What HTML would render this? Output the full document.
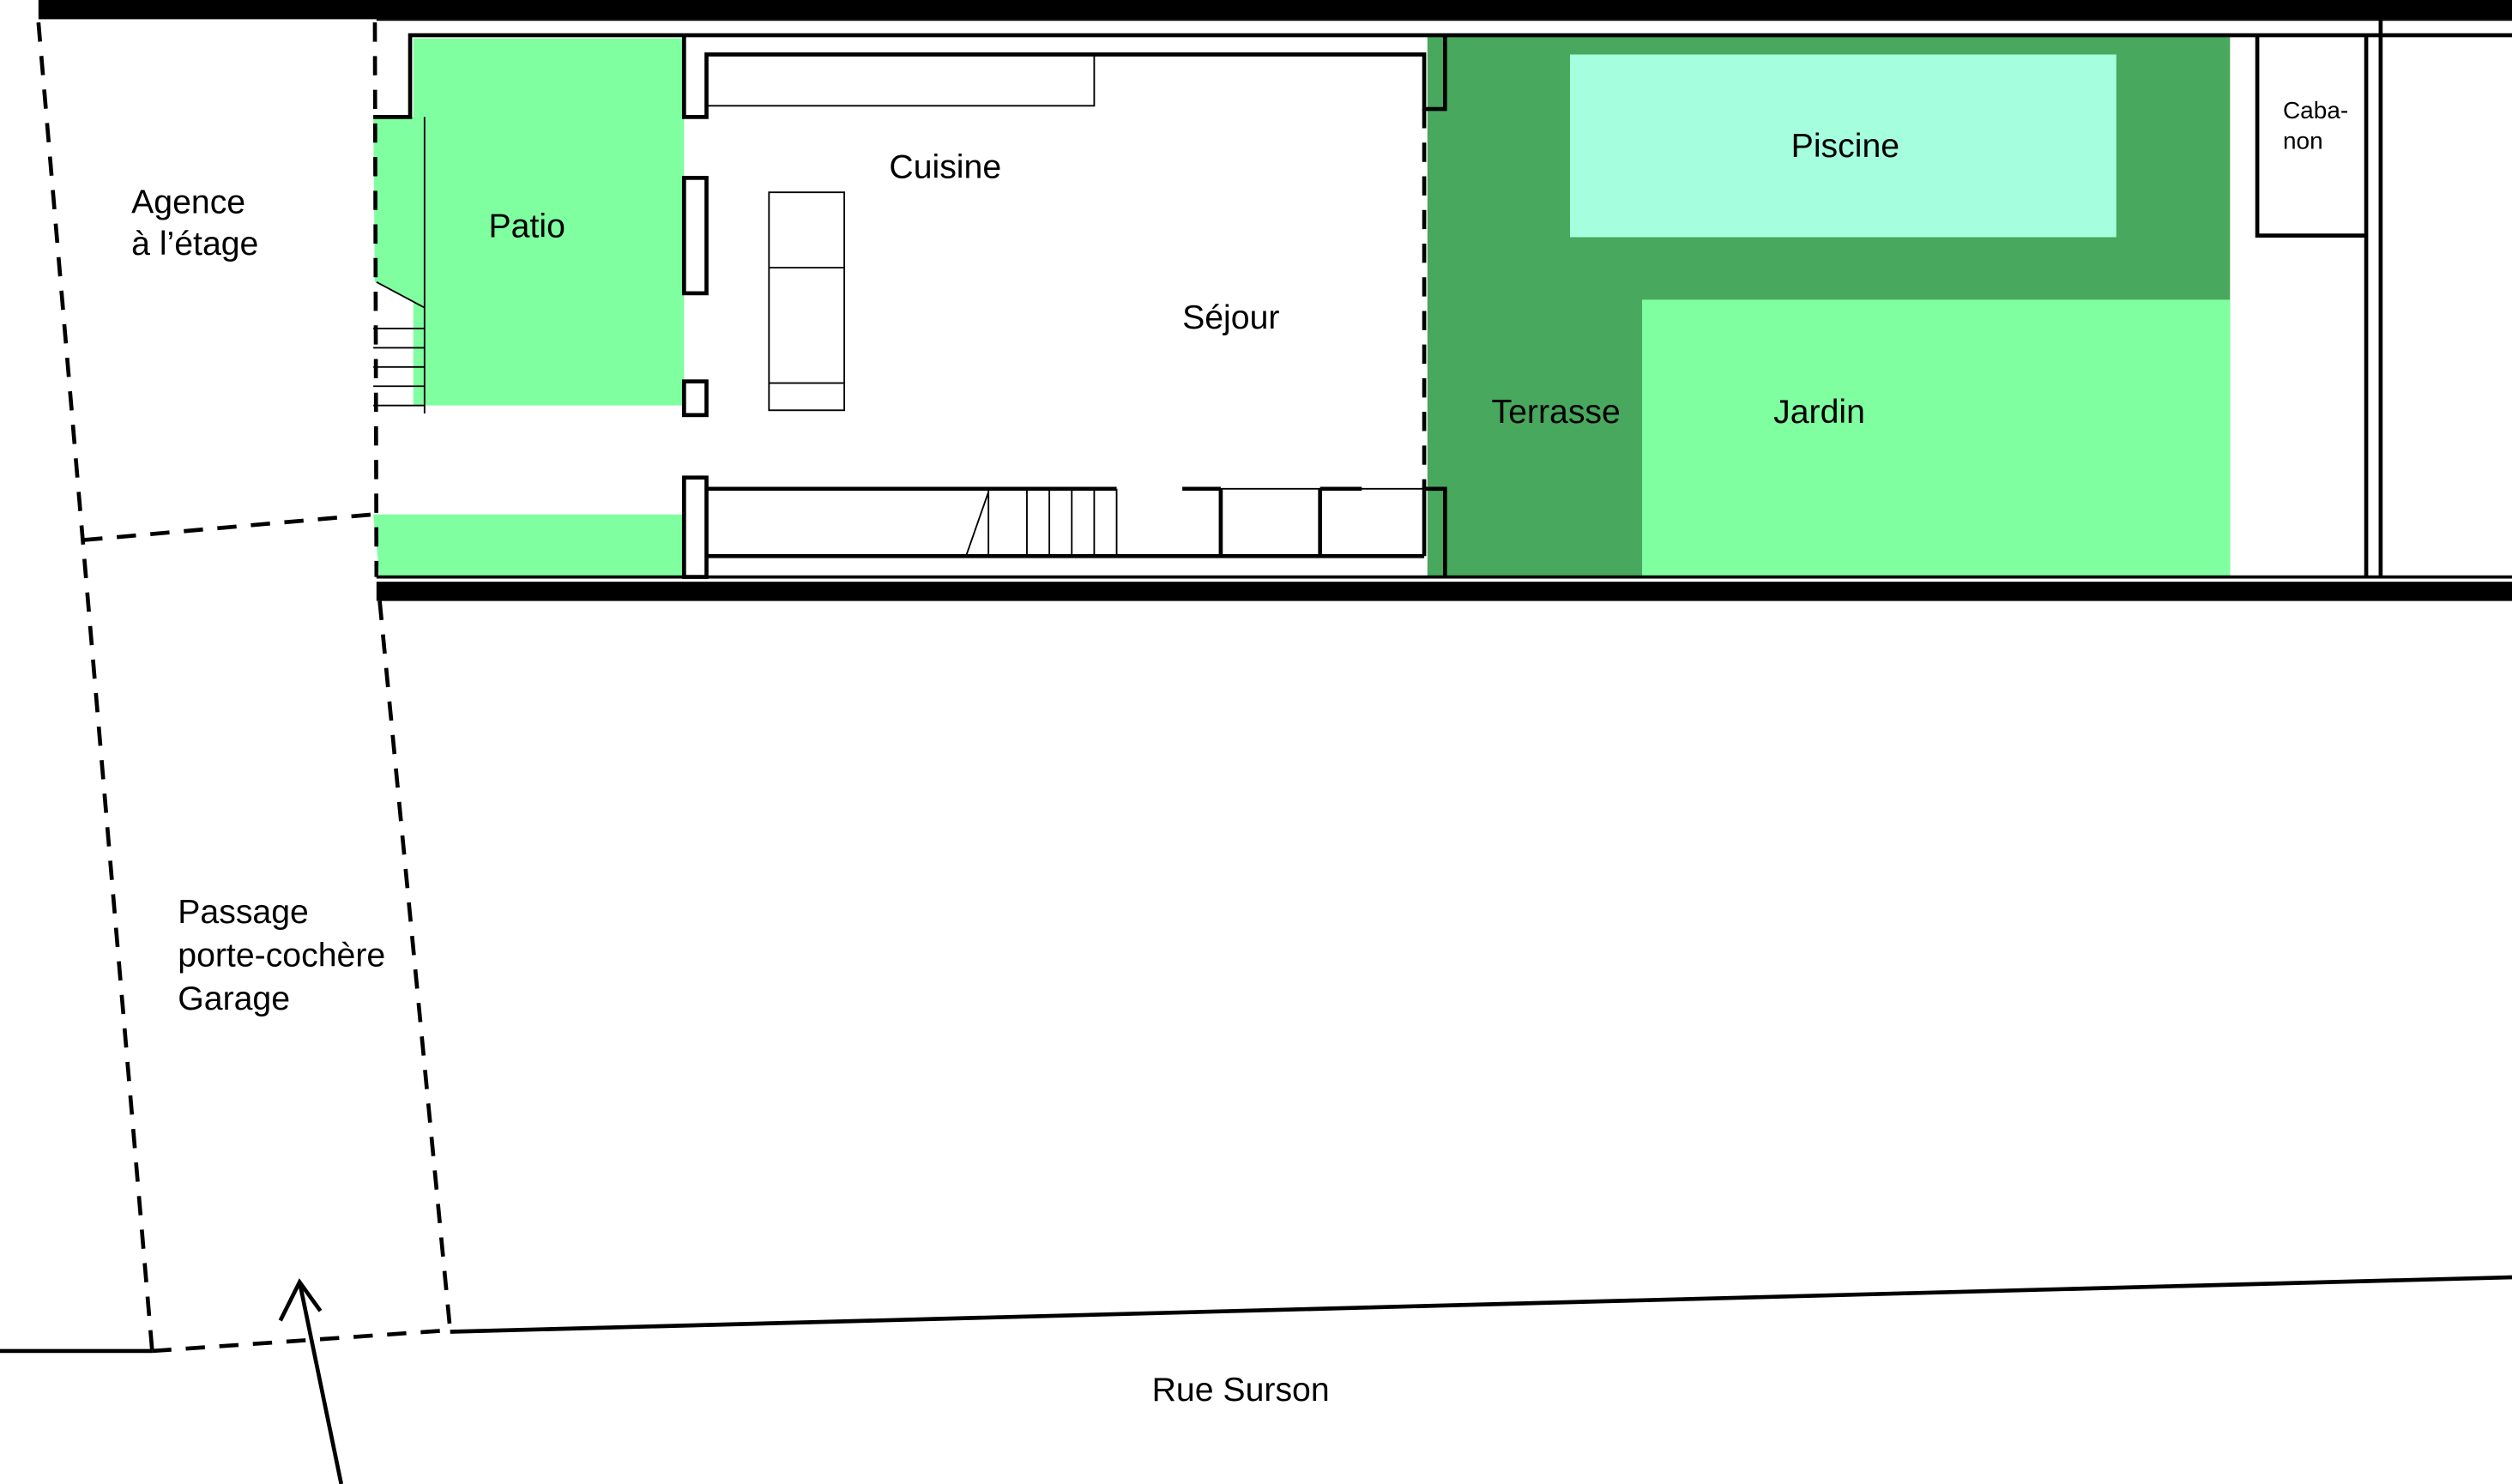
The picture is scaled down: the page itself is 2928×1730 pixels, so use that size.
<!DOCTYPE html>
<html><head><meta charset="utf-8"><style>
html,body{margin:0;padding:0;background:#fff;}
svg{display:block;}
text{font-family:"Liberation Sans",sans-serif;font-size:21px;fill:#000;}
</style></head><body>
<svg width="2928" height="1730" viewBox="0 0 1568 926" preserveAspectRatio="none" xmlns="http://www.w3.org/2000/svg">
<rect width="1568" height="926" fill="#fff"/>
<!-- greens -->
<rect x="891" y="22" width="501" height="338" fill="#48a85e"/>
<rect x="980" y="34" width="341" height="114" fill="#a5ffdf"/>
<rect x="1025" y="187" width="367" height="173" fill="#7fff9f"/>
<rect x="258" y="24" width="169" height="229" fill="#7fff9f"/>
<polygon points="233,73 266,73 266,192 234,176" fill="#7fff9f"/>
<polygon points="233,321 427,321 427,360 237,360" fill="#7fff9f"/>
<!-- top/bottom bands -->
<rect x="24" y="0" width="1544" height="12" fill="#000"/>
<rect x="235" y="363" width="1333" height="12" fill="#000"/>
<line x1="235" y1="360" x2="1568" y2="360" stroke="#000" stroke-width="2"/>
<line x1="235" y1="12.5" x2="1568" y2="12.5" stroke="#000" stroke-width="1"/>
<g fill="none" stroke="#000" stroke-width="2.5">
<polyline points="233,73 256,73 256,22 427,22"/>
<line x1="427" y1="22" x2="1568" y2="22"/>
<polyline points="427,22 427,73 441,73 441,34 889,34 889,68 902,68 902,22"/>
<rect x="427" y="111" width="14" height="72"/>
<rect x="427" y="238" width="14" height="21"/>
<rect x="427" y="298" width="14" height="62"/>
<line x1="441" y1="305" x2="697" y2="305"/>
<line x1="441" y1="347" x2="889" y2="347"/>
<line x1="738" y1="305" x2="762" y2="305"/>
<line x1="824" y1="305" x2="850" y2="305"/>
<line x1="762" y1="305" x2="762" y2="347"/>
<line x1="824" y1="305" x2="824" y2="347"/>
<polyline points="889,347 889,305 902,305 902,360"/>
<polyline points="1409,22 1409,147 1477,147"/>
<line x1="1477" y1="22" x2="1477" y2="360"/>
<line x1="1486" y1="12" x2="1486" y2="360"/>
</g>
<g fill="none" stroke="#000" stroke-width="1">
<polyline points="441,66 683,66 683,34"/>
<rect x="480" y="120" width="47" height="136"/>
<line x1="480" y1="167" x2="527" y2="167"/>
<line x1="480" y1="239" x2="527" y2="239"/>
<line x1="603" y1="347" x2="617" y2="307"/>
<line x1="617" y1="305" x2="617" y2="347"/><line x1="641" y1="305" x2="641" y2="347"/>
<line x1="655" y1="305" x2="655" y2="347"/><line x1="669" y1="305" x2="669" y2="347"/>
<line x1="683" y1="305" x2="683" y2="347"/><line x1="697" y1="305" x2="697" y2="347"/>
<line x1="762" y1="305" x2="889" y2="305"/>
<line x1="265" y1="73" x2="265" y2="258"/>
<line x1="235" y1="176" x2="265" y2="192"/>
<line x1="233" y1="205" x2="265" y2="205"/><line x1="233" y1="217" x2="265" y2="217"/>
<line x1="233" y1="229" x2="265" y2="229"/><line x1="233" y1="241" x2="265" y2="241"/>
<line x1="233" y1="253" x2="265" y2="253"/>
</g>
<!-- dashed -->
<g fill="none" stroke="#000" stroke-width="2.5" stroke-dasharray="12,9">
<line x1="24" y1="14" x2="95" y2="843"/>
<line x1="234" y1="14" x2="235" y2="360"/>
<line x1="237" y1="375" x2="281" y2="830"/>
<line x1="52" y1="337" x2="233" y2="321"/>
<line x1="95" y1="843" x2="281" y2="830"/>
<line x1="889" y1="68" x2="889" y2="305"/>
</g>
<g fill="none" stroke="#000" stroke-width="2.5">
<line x1="0" y1="843" x2="95" y2="843"/>
<line x1="281" y1="831" x2="1568" y2="797"/>
<line x1="213" y1="926" x2="187" y2="800"/>
<polyline points="175,824 187,800 200,818"/>
</g>
<text x="82" y="133">Agence</text>
<text x="82" y="159">à l’étage</text>
<text x="305" y="148">Patio</text>
<text x="555" y="111">Cuisine</text>
<text x="738" y="205">Séjour</text>
<text x="1118" y="98">Piscine</text>
<text x="931" y="264">Terrasse</text>
<text x="1107" y="264">Jardin</text>
<text x="1425" y="74" style="font-size:15px">Caba-</text>
<text x="1425" y="93" style="font-size:15px">non</text>
<text x="111" y="576">Passage</text>
<text x="111" y="603">porte-cochère</text>
<text x="111" y="630">Garage</text>
<text x="719" y="874">Rue Surson</text>
</svg>
</body></html>
